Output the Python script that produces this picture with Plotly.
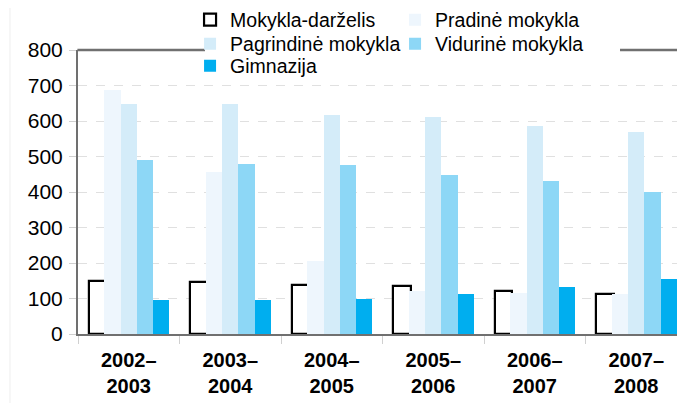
import plotly.graph_objects as go

categories = ["2002–<br>2003", "2003–<br>2004", "2004–<br>2005", "2005–<br>2006", "2006–<br>2007", "2007–<br>2008"]
mokykla_darzelis = [150, 146, 137, 135, 122, 112]
pradine = [688, 455, 205, 121, 115, 112]
pagrindine = [648, 649, 618, 610, 587, 570]
vidurine = [489, 480, 475, 447, 430, 399]
gimnazija = [96, 95, 98, 112, 132, 154]
y_ticks = [0, 100, 200, 300, 400, 500, 600, 700, 800]

series = [
    ("Mokykla-darželis", mokykla_darzelis, "white", -0.395, 0.173, "legend"),
    ("Pradinė mokykla", pradine, "#EEF6FD", -0.24, 0.16, "legend"),
    ("Pagrindinė mokykla", pagrindine, "#D4ECF9", -0.08, 0.16, "legend2"),
    ("Vidurinė mokykla", vidurine, "#8DD7F6", 0.08, 0.16, "legend2"),
    ("Gimnazija", gimnazija, "#00AEEF", 0.24, 0.16, "legend3"),
]

fig = go.Figure()
for i, (name, vals, color, off, w, leg) in enumerate(series):
    line = dict(color="black", width=2.2) if i == 0 else dict(width=0)
    fig.add_trace(go.Bar(
        x=categories, y=vals, name=name,
        marker=dict(color=color, line=line),
        offset=off, width=w, legend=leg,
    ))

FONT = "Liberation Sans, Arial, sans-serif"
leg_common = dict(
    orientation="h", x=0.184, xanchor="left", yanchor="middle",
    bgcolor="rgba(0,0,0,0)", font=dict(size=19.5, family=FONT, color="black"),
    entrywidth=160, itemwidth=30, traceorder="normal",
)

fig.update_layout(
    width=685, height=403,
    margin=dict(l=70, r=6, t=42, b=77, autoexpand=False),
    barmode="overlay",
    plot_bgcolor="white", paper_bgcolor="white",
    font=dict(family=FONT, color="black"),
    showlegend=True,
    legend=dict(leg_common, y=1.1056),
    legend2=dict(leg_common, y=1.021),
    legend3=dict(leg_common, y=0.9437),
    xaxis=dict(
        showline=True, linecolor="#707070", linewidth=2, mirror=False,
        ticks="outside", tickson="boundaries", ticklen=8, tickcolor="#d0d0d0",
        tickfont=dict(size=20, family=FONT, weight="bold", color="black"),
        ticklabelstandoff=7,
        showgrid=False,
    ),
    yaxis=dict(
        range=[0, 800], tickvals=y_ticks,
        showline=True, linecolor="#707070", linewidth=2,
        ticks="outside", ticklen=7, tickcolor="#d0d0d0",
        tickfont=dict(size=21, family=FONT, color="black"),
        ticklabelstandoff=2,
        showgrid=True, gridcolor="#e0e0e0", griddash="dash", gridwidth=1,
        zeroline=False,
    ),
    bargap=0,
    shapes=[
        dict(type="line", xref="paper", yref="paper", x0=-0.001, x1=0.2085, y0=1, y1=1,
             line=dict(color="#707070", width=2.5)),
        dict(type="line", xref="paper", yref="paper", x0=0.89, x1=1.0, y0=1, y1=1,
             line=dict(color="#707070", width=2.5)),
        dict(type="line", xref="paper", yref="paper", x0=-0.1117, x1=-0.1117, y0=-0.27, y1=1.15,
             line=dict(color="#eeeeee", width=1)),
    ],
)

fig.write_html("out.html")
